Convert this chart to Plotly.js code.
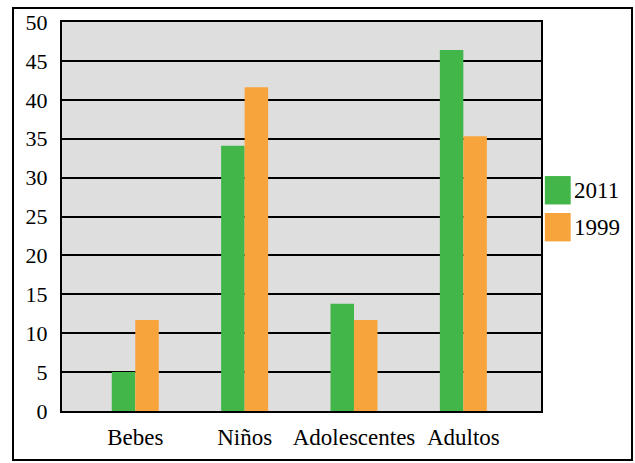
<!DOCTYPE html>
<html>
<head>
<meta charset="utf-8">
<script src="https://cdn.plot.ly/plotly-3.0.1.min.js"></script>
<style>
  #chart svg text { font-family: "Liberation Serif", "Times New Roman", serif !important; }
</style>
</head>
<body style="margin:0">
<div id="chart"></div>
<script>
const categories = ["Bebes", "Niños", "Adolescentes", "Adultos"];
const seriesNames = ["2011", "1999"];
const values2011 = [5, 34.1, 13.8, 46.4];
const values1999 = [11.7, 41.6, 11.7, 35.3];
const colors = ["#43b649", "#f8a43d"];

const traces = [
  { type: "bar", name: seriesNames[0], x: categories, y: values2011, marker: { color: colors[0] }, showlegend: false },
  { type: "bar", name: seriesNames[1], x: categories, y: values1999, marker: { color: colors[1] }, showlegend: false }
];

// outer frame + custom legend swatches
const shapes = [{
  type: "rect", xref: "paper", yref: "paper",
  x0: -0.1023, x1: 1.19, y0: -0.126, y1: 1.036,
  line: { color: "black", width: 2 }, fillcolor: "rgba(0,0,0,0)"
}];
const annotations = [];
const legendTop = [0.604, 0.509];
seriesNames.forEach((n, i) => {
  shapes.push({
    type: "rect", xref: "paper", yref: "paper",
    x0: 1.008, x1: 1.062, y0: legendTop[i] - 0.073, y1: legendTop[i],
    fillcolor: colors[i], line: { width: 0 }
  });
  annotations.push({
    xref: "paper", yref: "paper", x: 1.064, y: legendTop[i] - 0.0365,
    xanchor: "left", yanchor: "middle", showarrow: false,
    text: n, font: { family: "Times New Roman", size: 23, color: "black" }
  });
});

const layout = {
  width: 635, height: 463,
  margin: { l: 62, r: 94, t: 22, b: 52 },
  paper_bgcolor: "white",
  plot_bgcolor: "#dedede",
  barmode: "group",
  bargap: 0.57,
  bargroupgap: 0,
  font: { family: "Times New Roman", size: 22, color: "black" },
  xaxis: {
    type: "category",
    range: [-0.67, 3.71],
    showgrid: false,
    showline: true, linecolor: "black", linewidth: 2, mirror: true,
    ticks: "", ticklabelstandoff: 4,
    tickfont: { family: "Times New Roman", size: 23, color: "black" }
  },
  yaxis: {
    range: [0, 50], dtick: 5, tick0: 0,
    showgrid: true, gridcolor: "black", gridwidth: 2,
    zeroline: false,
    showline: true, linecolor: "black", linewidth: 2, mirror: true,
    ticks: "", ticklabelstandoff: 8,
    tickfont: { family: "Times New Roman", size: 22, color: "black" }
  },
  shapes: shapes,
  annotations: annotations,
  showlegend: false
};

Plotly.newPlot("chart", traces, layout, { displayModeBar: false });
</script>
</body>
</html>
